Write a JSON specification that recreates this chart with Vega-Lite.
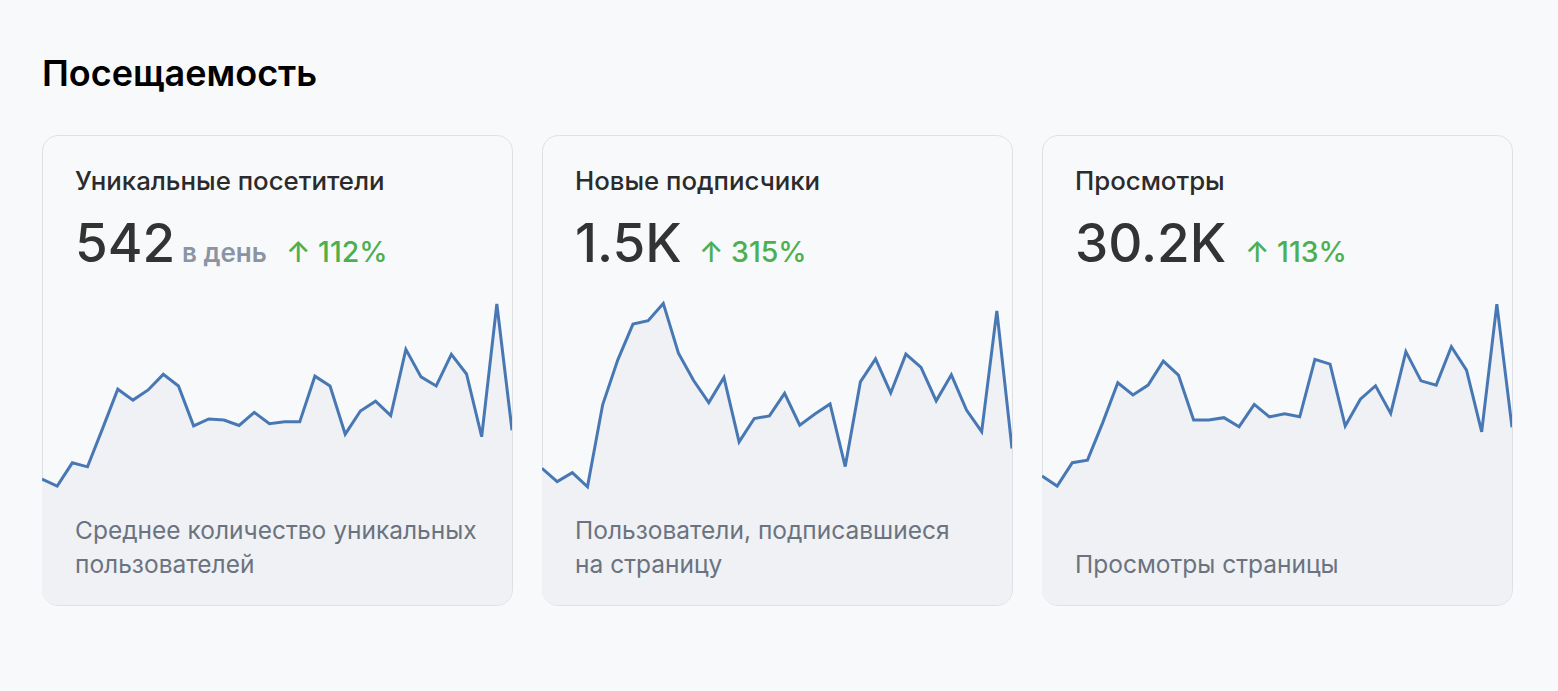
{
  "$schema": "https://vega.github.io/schema/vega-lite/v6.json",
  "background": "#f8f9fb",
  "padding": {"left": 41, "top": 56, "right": 45, "bottom": 86},
  "title": {"text": "Посещаемость", "anchor": "start", "frame": "group", "fontSize": 36, "fontWeight": 600, "color": "#000000", "font": "Inter", "offset": 41},
  "spacing": 28,
  "datasets": {
    "cards": [
      {"card": "visitors", "title": "Уникальные посетители", "value": "542", "unit": "в день", "change": "↑ 112%", "desc": "Среднее количество уникальных\nпользователей"},
      {"card": "subscribers", "title": "Новые подписчики", "value": "1.5K", "unit": "", "change": "↑ 315%", "desc": "Пользователи, подписавшиеся\nна страницу"},
      {"card": "views", "title": "Просмотры", "value": "30.2K", "unit": "", "change": "↑ 113%", "desc": "Просмотры страницы"}
    ],
    "visitors": [
      {"day": 1, "value": 347}, {"day": 2, "value": 328}, {"day": 3, "value": 392}, {"day": 4, "value": 381},
      {"day": 5, "value": 487}, {"day": 6, "value": 595}, {"day": 7, "value": 565}, {"day": 8, "value": 593},
      {"day": 9, "value": 636}, {"day": 10, "value": 604}, {"day": 11, "value": 494}, {"day": 12, "value": 513},
      {"day": 13, "value": 510}, {"day": 14, "value": 495}, {"day": 15, "value": 531}, {"day": 16, "value": 500},
      {"day": 17, "value": 505}, {"day": 18, "value": 505}, {"day": 19, "value": 631}, {"day": 20, "value": 604},
      {"day": 21, "value": 471}, {"day": 22, "value": 535}, {"day": 23, "value": 562}, {"day": 24, "value": 522},
      {"day": 25, "value": 705}, {"day": 26, "value": 629}, {"day": 27, "value": 604}, {"day": 28, "value": 691},
      {"day": 29, "value": 637}, {"day": 30, "value": 464}, {"day": 31, "value": 830}, {"day": 32, "value": 482}
    ],
    "subscribers": [
      {"day": 1, "value": 31.0}, {"day": 2, "value": 28.0}, {"day": 3, "value": 30.0}, {"day": 4, "value": 26.8},
      {"day": 5, "value": 45.4}, {"day": 6, "value": 55.6}, {"day": 7, "value": 63.7}, {"day": 8, "value": 64.5},
      {"day": 9, "value": 68.4}, {"day": 10, "value": 57.1}, {"day": 11, "value": 50.9}, {"day": 12, "value": 45.9},
      {"day": 13, "value": 51.6}, {"day": 14, "value": 37.0}, {"day": 15, "value": 42.3}, {"day": 16, "value": 42.9},
      {"day": 17, "value": 48.0}, {"day": 18, "value": 40.8}, {"day": 19, "value": 43.3}, {"day": 20, "value": 45.6},
      {"day": 21, "value": 31.4}, {"day": 22, "value": 50.6}, {"day": 23, "value": 55.8}, {"day": 24, "value": 48.1},
      {"day": 25, "value": 56.9}, {"day": 26, "value": 53.9}, {"day": 27, "value": 46.3}, {"day": 28, "value": 52.2},
      {"day": 29, "value": 44.2}, {"day": 30, "value": 39.3}, {"day": 31, "value": 66.7}, {"day": 32, "value": 35.5}
    ],
    "views": [
      {"day": 1, "value": 602}, {"day": 2, "value": 555}, {"day": 3, "value": 664}, {"day": 4, "value": 676},
      {"day": 5, "value": 850}, {"day": 6, "value": 1037}, {"day": 7, "value": 980}, {"day": 8, "value": 1026},
      {"day": 9, "value": 1138}, {"day": 10, "value": 1073}, {"day": 11, "value": 863}, {"day": 12, "value": 863},
      {"day": 13, "value": 874}, {"day": 14, "value": 832}, {"day": 15, "value": 936}, {"day": 16, "value": 878},
      {"day": 17, "value": 892}, {"day": 18, "value": 878}, {"day": 19, "value": 1146}, {"day": 20, "value": 1124},
      {"day": 21, "value": 835}, {"day": 22, "value": 960}, {"day": 23, "value": 1023}, {"day": 24, "value": 894},
      {"day": 25, "value": 1182}, {"day": 26, "value": 1046}, {"day": 27, "value": 1026}, {"day": 28, "value": 1205},
      {"day": 29, "value": 1096}, {"day": 30, "value": 808}, {"day": 31, "value": 1404}, {"day": 32, "value": 829}
    ]
  },
  "hconcat": [
    {
      "width": 470, "height": 470,
      "layer": [
        {"data": {"name": "visitors"}, "mark": {"type": "area", "color": "#eff1f5", "clip": true},
         "encoding": {"x": {"field": "day", "type": "quantitative", "scale": {"domain": [1, 32], "nice": false}, "axis": null},
                      "y": {"field": "value", "type": "quantitative", "scale": {"domain": [0, 1296], "nice": false}, "axis": null}}},
        {"data": {"name": "visitors"}, "mark": {"type": "line", "color": "#4878b4", "strokeWidth": 3, "clip": true},
         "encoding": {"x": {"field": "day", "type": "quantitative"}, "y": {"field": "value", "type": "quantitative"}}},
        {"data": {"name": "cards"}, "transform": [{"filter": "datum.card === 'visitors'"}],
         "mark": {"type": "text", "x": 33, "y": 55, "align": "left", "baseline": "alphabetic", "fontSize": 25.8, "fontWeight": 500, "color": "#2b2b2b"},
         "encoding": {"text": {"field": "title"}}},
        {"data": {"name": "cards"}, "transform": [{"filter": "datum.card === 'visitors'"}],
         "mark": {"type": "text", "x": 33, "y": 127, "align": "left", "baseline": "alphabetic", "fontSize": 53, "fontWeight": 500, "color": "#333333"},
         "encoding": {"text": {"field": "value"}}},
        {"data": {"name": "cards"}, "transform": [{"filter": "datum.card === 'visitors'"}],
         "mark": {"type": "text", "x": 140, "y": 127, "align": "left", "baseline": "alphabetic", "fontSize": 26, "fontWeight": 600, "color": "#8a94a3"},
         "encoding": {"text": {"field": "unit"}}},
        {"data": {"name": "cards"}, "transform": [{"filter": "datum.card === 'visitors'"}],
         "mark": {"type": "text", "x": 244, "y": 127, "align": "left", "baseline": "alphabetic", "fontSize": 28.5, "fontWeight": 500, "color": "#4caf50"},
         "encoding": {"text": {"field": "change"}}},
        {"data": {"name": "cards"}, "transform": [{"filter": "datum.card === 'visitors'"}],
         "mark": {"type": "text", "x": 33, "y": 404, "align": "left", "baseline": "alphabetic", "fontSize": 24.5, "fontWeight": 400, "color": "#6b7380", "lineBreak": "\n", "lineHeight": 34},
         "encoding": {"text": {"field": "desc"}}}
      ]
    },
    {
      "width": 470, "height": 470,
      "layer": [
        {"data": {"name": "subscribers"}, "mark": {"type": "area", "color": "#eff1f5", "clip": true},
         "encoding": {"x": {"field": "day", "type": "quantitative", "scale": {"domain": [1, 32], "nice": false}, "axis": null},
                      "y": {"field": "value", "type": "quantitative", "scale": {"domain": [0, 106.6], "nice": false}, "axis": null}}},
        {"data": {"name": "subscribers"}, "mark": {"type": "line", "color": "#4878b4", "strokeWidth": 3, "clip": true},
         "encoding": {"x": {"field": "day", "type": "quantitative"}, "y": {"field": "value", "type": "quantitative"}}},
        {"data": {"name": "cards"}, "transform": [{"filter": "datum.card === 'subscribers'"}],
         "mark": {"type": "text", "x": 33, "y": 55, "align": "left", "baseline": "alphabetic", "fontSize": 25.8, "fontWeight": 500, "color": "#2b2b2b"},
         "encoding": {"text": {"field": "title"}}},
        {"data": {"name": "cards"}, "transform": [{"filter": "datum.card === 'subscribers'"}],
         "mark": {"type": "text", "x": 33, "y": 127, "align": "left", "baseline": "alphabetic", "fontSize": 53, "fontWeight": 500, "color": "#333333"},
         "encoding": {"text": {"field": "value"}}},
        {"data": {"name": "cards"}, "transform": [{"filter": "datum.card === 'subscribers'"}],
         "mark": {"type": "text", "x": 157, "y": 127, "align": "left", "baseline": "alphabetic", "fontSize": 28.5, "fontWeight": 500, "color": "#4caf50"},
         "encoding": {"text": {"field": "change"}}},
        {"data": {"name": "cards"}, "transform": [{"filter": "datum.card === 'subscribers'"}],
         "mark": {"type": "text", "x": 33, "y": 404, "align": "left", "baseline": "alphabetic", "fontSize": 24.5, "fontWeight": 400, "color": "#6b7380", "lineBreak": "\n", "lineHeight": 34},
         "encoding": {"text": {"field": "desc"}}}
      ]
    },
    {
      "width": 470, "height": 470,
      "layer": [
        {"data": {"name": "views"}, "mark": {"type": "area", "color": "#eff1f5", "clip": true},
         "encoding": {"x": {"field": "day", "type": "quantitative", "scale": {"domain": [1, 32], "nice": false}, "axis": null},
                      "y": {"field": "value", "type": "quantitative", "scale": {"domain": [0, 2193], "nice": false}, "axis": null}}},
        {"data": {"name": "views"}, "mark": {"type": "line", "color": "#4878b4", "strokeWidth": 3, "clip": true},
         "encoding": {"x": {"field": "day", "type": "quantitative"}, "y": {"field": "value", "type": "quantitative"}}},
        {"data": {"name": "cards"}, "transform": [{"filter": "datum.card === 'views'"}],
         "mark": {"type": "text", "x": 33, "y": 55, "align": "left", "baseline": "alphabetic", "fontSize": 25.8, "fontWeight": 500, "color": "#2b2b2b"},
         "encoding": {"text": {"field": "title"}}},
        {"data": {"name": "cards"}, "transform": [{"filter": "datum.card === 'views'"}],
         "mark": {"type": "text", "x": 33, "y": 127, "align": "left", "baseline": "alphabetic", "fontSize": 53, "fontWeight": 500, "color": "#333333"},
         "encoding": {"text": {"field": "value"}}},
        {"data": {"name": "cards"}, "transform": [{"filter": "datum.card === 'views'"}],
         "mark": {"type": "text", "x": 203, "y": 127, "align": "left", "baseline": "alphabetic", "fontSize": 28.5, "fontWeight": 500, "color": "#4caf50"},
         "encoding": {"text": {"field": "change"}}},
        {"data": {"name": "cards"}, "transform": [{"filter": "datum.card === 'views'"}],
         "mark": {"type": "text", "x": 33, "y": 438, "align": "left", "baseline": "alphabetic", "fontSize": 24.5, "fontWeight": 400, "color": "#6b7380", "lineBreak": "\n", "lineHeight": 34},
         "encoding": {"text": {"field": "desc"}}}
      ]
    }
  ],
  "config": {
    "font": "Inter",
    "view": {"fill": "#ffffff", "stroke": "#dde0e5", "strokeWidth": 1, "cornerRadius": 16}
  }
}
